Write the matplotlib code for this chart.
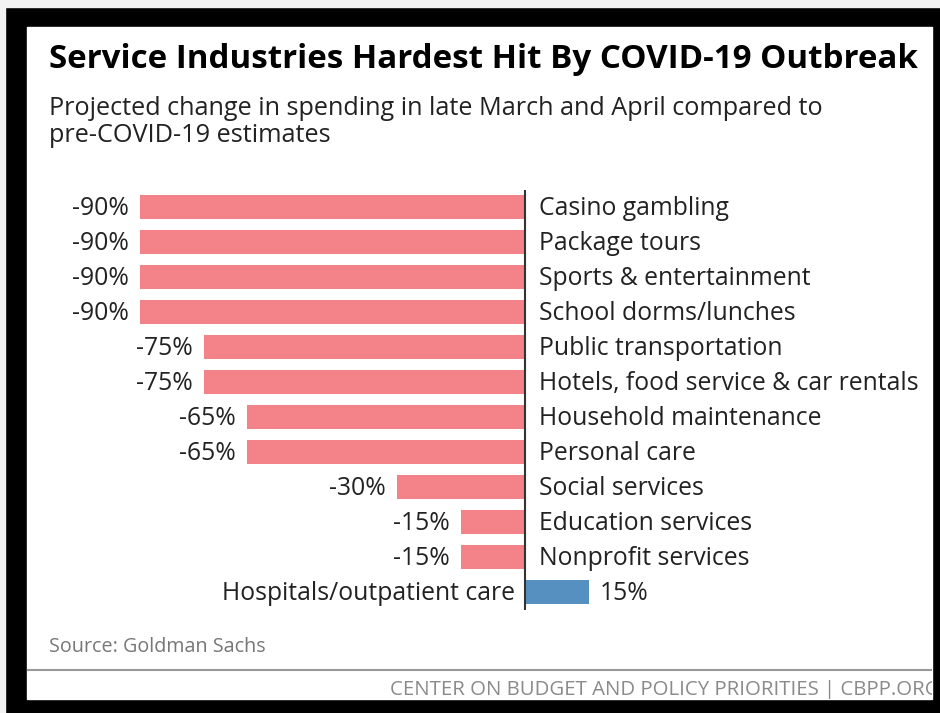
import numpy as np
import matplotlib.pyplot as plt
from matplotlib.patches import Rectangle

plt.rcParams['font.family'] = ['Open Sans', 'DejaVu Sans']

categories = ['Casino gambling', 'Package tours', 'Sports & entertainment',
              'School dorms/lunches', 'Public transportation',
              'Hotels, food service & car rentals', 'Household maintenance',
              'Personal care', 'Social services', 'Education services',
              'Nonprofit services', 'Hospitals/outpatient care']
values = [-90, -90, -90, -90, -75, -75, -65, -65, -30, -15, -15, 15]

W, H = 940, 713
fig = plt.figure(figsize=(W / 100, H / 100), dpi=100, facecolor='black')

def fx(px):
    return px / W

def fy(py):
    return 1 - py / H

# light strip at top and left edge, white panel (drawn under the axes)
fig.patches.append(Rectangle((0, fy(7)), 1, 7 / H, transform=fig.transFigure,
                             color='#f2f2f2', zorder=-1))
fig.patches.append(Rectangle((0, 0), 5 / W, 1, transform=fig.transFigure,
                             color='#f2f2f2', zorder=-1))
fig.patches.append(Rectangle((fx(27), fy(699)), fx(932 - 27), (699 - 27) / H,
                             transform=fig.transFigure, color='white', zorder=-1))

panel = fig.add_axes([fx(27), fy(699), fx(932 - 27), (699 - 27) / H])
panel.set_xlim(27, 932)
panel.set_ylim(699, 27)
panel.axis('off')

panel.text(49, 68, 'Service Industries Hardest Hit By COVID-19 Outbreak',
           fontsize=23.9, fontweight='bold', color='black', va='baseline')
panel.text(49, 115, 'Projected change in spending in late March and April compared to',
           fontsize=18.2, color='#222222', va='baseline')
panel.text(49, 142, 'pre-COVID-19 estimates', fontsize=18.2, color='#222222', va='baseline')
panel.text(49, 652, 'Source: Goldman Sachs', fontsize=14.2, color='#777777', va='baseline')
panel.plot([27, 932], [670, 670], color='#999999', lw=1.5)
panel.text(390, 695, 'CENTER ON BUDGET AND POLICY PRIORITIES | CBPP.ORG',
           fontsize=14.7, color='#8a8a8a', va='baseline', clip_on=True)

# bar chart
n = len(categories)
y = np.arange(n)
ax = fig.add_axes([fx(140), fy(609.5), fx(589 - 140), 420 / H])
ax.set_xlim(-90, 15)
ax.set_ylim(n - 0.5, -0.5)
colors = ['#f48289' if v < 0 else '#5590c0' for v in values]
ax.barh(y, values, height=0.69, color=colors)
ax.axvline(0, color='#333333', lw=1.5)
ax.axis('off')

fs = 17.8
off = 0.235  # baseline below bar centre, in bar units
for yi, cat, v in zip(y, categories, values):
    if v < 0:
        ax.text(3.3, yi + off, cat, ha='left', va='baseline', fontsize=fs, color='#222222')
        ax.text(v - 2.6, yi + off, f'{v}%', ha='right', va='baseline', fontsize=fs, color='#222222')
    else:
        ax.text(-2.3, yi + off, cat, ha='right', va='baseline', fontsize=fs, color='#222222')
        ax.text(v + 2.6, yi + off, f'{v}%', ha='left', va='baseline', fontsize=fs, color='#222222')

plt.savefig('out.png', dpi=100, facecolor='black')
